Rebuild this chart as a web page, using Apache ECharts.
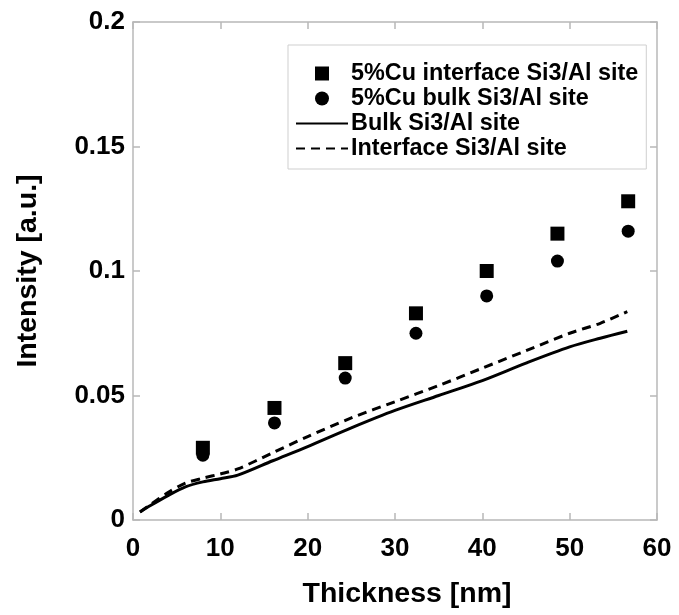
<!DOCTYPE html>
<html><head><meta charset="utf-8">
<script src="https://cdn.jsdelivr.net/npm/echarts@6/dist/echarts.min.js"></script>
<style>html,body{margin:0;padding:0;background:#fff}#c{width:679px;height:615px}</style>
</head><body><div id="c"></div>
<script>
var thickness = [8.0, 16.2, 24.3, 32.4, 40.5, 48.6, 56.7];
var cuInterface = [0.029, 0.045, 0.063, 0.083, 0.100, 0.115, 0.128];
var cuBulk = [0.026, 0.039, 0.057, 0.075, 0.090, 0.104, 0.116];
var lineX = [0.8, 2, 4, 6, 8, 10, 12, 16, 20, 25, 30, 35, 40, 45, 50, 53.5, 56.6];
var bulkLine = [0.0032, 0.0058, 0.0098, 0.0133, 0.0153, 0.0166, 0.0180, 0.0238, 0.0295, 0.0370, 0.0440, 0.0500, 0.0560, 0.0630, 0.0695, 0.0730, 0.0758];
var interfaceLine = [0.0032, 0.0062, 0.0110, 0.0148, 0.0168, 0.0185, 0.0205, 0.0270, 0.0335, 0.0410, 0.0475, 0.0540, 0.0610, 0.0680, 0.0750, 0.0790, 0.0837];
var xTicks = [0, 10, 20, 30, 40, 50, 60];
var yTicks = [0, 0.05, 0.1, 0.15, 0.2];

function pairs(xs, ys){ return xs.map(function(x,i){ return [x, ys[i]]; }); }

var font = 'Liberation Sans, Arial, sans-serif';
var gray = '#b8b8b8';
var chart = echarts.init(document.getElementById('c'));
var hidden = { color: 'rgba(0,0,0,0)', borderColor: 'rgba(0,0,0,0)', borderWidth: 0 };
var frameLine = { show: true, onZero: false, lineStyle: { color: gray, width: 1.5 } };
var frameTick = { show: true, inside: true, length: 7, lineStyle: { color: gray, width: 1.5 } };
chart.setOption({
  backgroundColor: '#fff',
  animation: false,
  grid: { left: 133, right: 22, top: 22, bottom: 95 },
  legend: {
    orient: 'vertical', left: 288, top: 45,
    padding: [16, 8, 8, 7],
    borderColor: '#cfcfcf', borderWidth: 1,
    itemWidth: 52, itemHeight: 14, itemGap: 0,
    textStyle: { fontFamily: font, fontWeight: 'bold', fontSize: 23.4, color: '#000', lineHeight: 25, padding: [0,0,0,-2] },
    data: [
      { name: '5%Cu interface Si3/Al site', icon: 'path://M0,0H10V10H0Z' },
      { name: '5%Cu bulk Si3/Al site', icon: 'circle' },
      { name: 'Bulk Si3/Al site', itemStyle: hidden },
      { name: 'Interface Si3/Al site', itemStyle: hidden }
    ]
  },
  xAxis: [{
    type: 'value', min: 0, max: 60, interval: 10,
    name: 'Thickness [nm]', nameLocation: 'middle', nameGap: 60,
    nameTextStyle: { fontFamily: font, fontWeight: 'bold', fontSize: 28.5, color: '#000', padding: [0, 0, 0, 24] },
    axisLine: frameLine, axisTick: frameTick,
    axisLabel: { margin: 16, fontFamily: font, fontWeight: 'bold', fontSize: 26, color: '#000',
      formatter: function(v){ return xTicks.indexOf(v) >= 0 ? String(v) : ''; } },
    splitLine: { show: false }
  }, {
    type: 'value', min: 0, max: 60, interval: 10, position: 'top',
    axisLine: frameLine, axisTick: frameTick,
    axisLabel: { show: false }, splitLine: { show: false }
  }],
  yAxis: [{
    type: 'value', min: 0, max: 0.2, interval: 0.05,
    name: 'Intensity [a.u.]', nameLocation: 'middle', nameGap: 90, nameRotate: 90,
    nameTextStyle: { fontFamily: font, fontWeight: 'bold', fontSize: 28.5, color: '#000' },
    axisLine: frameLine, axisTick: frameTick,
    axisLabel: { margin: 8, fontFamily: font, fontWeight: 'bold', fontSize: 26, color: '#000',
      formatter: function(v){ var t = yTicks.filter(function(k){ return Math.abs(k - v) < 1e-9; }); return t.length ? String(t[0]) : ''; } },
    splitLine: { show: false }
  }, {
    type: 'value', min: 0, max: 0.2, interval: 0.05, position: 'right',
    axisLine: frameLine, axisTick: frameTick,
    axisLabel: { show: false }, splitLine: { show: false }
  }],
  series: [
    { name: '5%Cu interface Si3/Al site', type: 'scatter', symbol: 'rect', symbolSize: 14,
      itemStyle: { color: '#000', opacity: 1 }, data: pairs(thickness, cuInterface), z: 3 },
    { name: '5%Cu bulk Si3/Al site', type: 'scatter', symbol: 'circle', symbolSize: 13,
      itemStyle: { color: '#000', opacity: 1 }, data: pairs(thickness, cuBulk), z: 3 },
    { name: 'Bulk Si3/Al site', type: 'line', smooth: 0.3, symbol: 'circle', symbolSize: 0, showSymbol: false,
      itemStyle: { color: '#000' }, lineStyle: { color: '#000', width: 3 }, data: pairs(lineX, bulkLine) },
    { name: 'Interface Si3/Al site', type: 'line', smooth: 0.3, symbol: 'circle', symbolSize: 0, showSymbol: false,
      itemStyle: { color: '#000' }, lineStyle: { color: '#000', width: 3, type: [9, 6] }, data: pairs(lineX, interfaceLine) }
  ]
});
</script></body></html>
